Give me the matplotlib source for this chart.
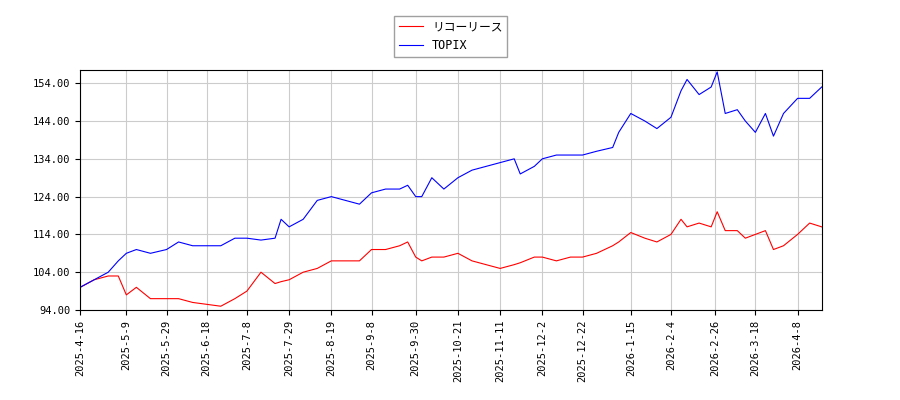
import pandas as pd
import matplotlib
matplotlib.use("Agg")
import matplotlib.pyplot as plt

plt.rcParams['font.family'] = ['DejaVu Sans Mono', 'Noto Sans CJK JP']

dates = ["2025-4-16", "2025-4-23", "2025-4-30", "2025-5-5", "2025-5-9", "2025-5-14", "2025-5-21",
         "2025-5-29", "2025-6-4", "2025-6-11", "2025-6-18", "2025-6-25", "2025-7-2", "2025-7-8",
         "2025-7-15", "2025-7-22", "2025-7-25", "2025-7-29", "2025-8-5", "2025-8-12", "2025-8-19",
         "2025-8-26", "2025-9-2", "2025-9-8", "2025-9-15", "2025-9-22", "2025-9-26", "2025-9-30",
         "2025-10-3", "2025-10-8", "2025-10-14", "2025-10-21", "2025-10-28", "2025-11-4",
         "2025-11-11", "2025-11-18", "2025-11-21", "2025-11-28", "2025-12-2", "2025-12-9",
         "2025-12-16", "2025-12-22", "2025-12-29", "2026-1-6", "2026-1-9", "2026-1-15",
         "2026-1-22", "2026-1-28", "2026-2-4", "2026-2-9", "2026-2-12", "2026-2-18", "2026-2-24",
         "2026-2-27", "2026-3-3", "2026-3-9", "2026-3-13", "2026-3-18", "2026-3-23", "2026-3-27",
         "2026-4-1", "2026-4-8", "2026-4-14", "2026-4-20"]

topix = [100, 102, 104, 107, 109, 110, 109, 110, 112, 111, 111, 111, 113, 113,
         112.5, 113, 118, 116, 118, 123, 124, 123, 122, 125, 126, 126, 127, 124,
         124, 129, 126, 129, 131, 132, 133, 134, 130, 132, 134, 135, 135, 135, 136, 137,
         141, 146, 144, 142, 145, 152, 155, 151, 153, 157, 146, 147, 144, 141, 146, 140,
         146, 150, 150, 153]

ricoh = [100, 102, 103, 103, 98, 100, 97, 97, 97, 96, 95.5, 95, 97, 99,
         104, 101, 101.5, 102, 104, 105, 107, 107, 107, 110, 110, 111, 112, 108,
         107, 108, 108, 109, 107, 106, 105, 106, 106.5, 108, 108, 107, 108, 108, 109, 111,
         112, 114.5, 113, 112, 114, 118, 116, 117, 116, 120, 115, 115, 113, 114, 115, 110,
         111, 114, 117, 116]

ticks = ["2025-4-16", "2025-5-9", "2025-5-29", "2025-6-18", "2025-7-8", "2025-7-29",
         "2025-8-19", "2025-9-8", "2025-9-30", "2025-10-21", "2025-11-11", "2025-12-2",
         "2025-12-22", "2026-1-15", "2026-2-4", "2026-2-26", "2026-3-18", "2026-4-8"]

x = pd.to_datetime(dates)
fig = plt.figure(figsize=(9, 4), dpi=100)
ax = fig.add_axes([0.089, 0.225, 0.824, 0.60])
ax.plot(x, ricoh, color="red", lw=0.8, label="リコーリース")
ax.plot(x, topix, color="blue", lw=0.8, label="TOPIX")
ax.set_xlim(x[0], x[-1])
ax.set_ylim(94, 157.5)
ax.set_yticks([94, 104, 114, 124, 134, 144, 154])
ax.yaxis.set_major_formatter(matplotlib.ticker.FormatStrFormatter("%.2f"))
ax.set_xticks(pd.to_datetime(ticks))
ax.set_xticklabels(ticks, rotation=90)
ax.tick_params(labelsize=7.5)
ax.grid(True, color="#cccccc", lw=0.8)
ax.legend(loc="lower center", bbox_to_anchor=(0.5, 1.03), fontsize=8.5,
          fancybox=False, edgecolor="#888888")
fig.savefig("out.png")
